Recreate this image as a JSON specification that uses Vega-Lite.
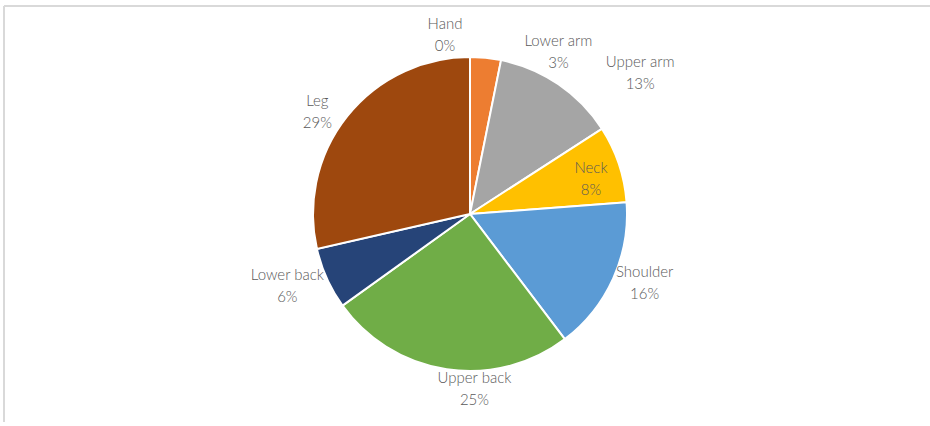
{
  "$schema": "https://vega.github.io/schema/vega-lite/v6.json",
  "width": 932,
  "height": 416,
  "autosize": {"type": "none"},
  "padding": {"left": 4, "top": 6, "right": -6, "bottom": 4},
  "background": "white",
  "view": {"stroke": "#d9d9d9", "strokeWidth": 2, "strokeDash": [932, 1348, 416, 0]},
  "config": {
    "view": {"stroke": "#d9d9d9", "strokeWidth": 2, "strokeDash": [932, 1348, 416, 0]},
    "text": {"font": "Lato", "fontSize": 15, "fontWeight": 300, "color": "#595959", "lineHeight": 22, "baseline": "middle", "align": "center"}
  },
  "data": {
    "values": [
      {"part": "Hand", "pct": 0, "k": 1, "label": "Hand\n0%"},
      {"part": "Lower arm", "pct": 0.0317, "k": 2, "label": "Lower arm\n3%"},
      {"part": "Upper arm", "pct": 0.127, "k": 3, "label": "Upper arm\n13%"},
      {"part": "Neck", "pct": 0.0794, "k": 4, "label": "Neck\n8%"},
      {"part": "Shoulder", "pct": 0.1587, "k": 5, "label": "Shoulder\n16%"},
      {"part": "Upper back", "pct": 0.254, "k": 6, "label": "Upper back\n25%"},
      {"part": "Lower back", "pct": 0.0635, "k": 7, "label": "Lower back\n6%"},
      {"part": "Leg", "pct": 0.2857, "k": 8, "label": "Leg\n29%"}
    ]
  },
  "encoding": {
    "theta": {"field": "pct", "type": "quantitative", "stack": true},
    "order": {"field": "k", "type": "quantitative"}
  },
  "layer": [
    {
      "mark": {"type": "arc", "outerRadius": 157, "stroke": "white", "strokeWidth": 2},
      "encoding": {
        "color": {
          "field": "part",
          "type": "nominal",
          "legend": null,
          "scale": {
            "domain": ["Hand", "Lower arm", "Upper arm", "Neck", "Shoulder", "Upper back", "Lower back", "Leg"],
            "range": ["#4472C4", "#ED7D31", "#A5A5A5", "#FFC000", "#5B9BD5", "#70AD47", "#264478", "#9E480E"]
          }
        }
      }
    },
    {
      "mark": {"type": "text", "radius": 185, "dx": -25, "dy": -5, "lineBreak": "\n"},
      "encoding": {"text": {"condition": {"test": "datum.part === 'Hand'", "field": "label"}, "value": ""}}
    },
    {
      "mark": {"type": "text", "radius": 185, "dx": 70, "dy": 11, "lineBreak": "\n"},
      "encoding": {"text": {"condition": {"test": "datum.part === 'Lower arm'", "field": "label"}, "value": ""}}
    },
    {
      "mark": {"type": "text", "radius": 185, "dx": 66, "dy": 1, "lineBreak": "\n"},
      "encoding": {"text": {"condition": {"test": "datum.part === 'Upper arm'", "field": "label"}, "value": ""}}
    },
    {
      "mark": {"type": "text", "radius": 125, "dx": 2.5, "dy": -6, "lineBreak": "\n"},
      "encoding": {"text": {"condition": {"test": "datum.part === 'Neck'", "field": "label"}, "value": ""}}
    },
    {
      "mark": {"type": "text", "radius": 185, "dx": 6, "dy": -18, "lineBreak": "\n"},
      "encoding": {"text": {"condition": {"test": "datum.part === 'Shoulder'", "field": "label"}, "value": ""}}
    },
    {
      "mark": {"type": "text", "radius": 185, "dx": 32, "dy": -19, "lineBreak": "\n"},
      "encoding": {"text": {"condition": {"test": "datum.part === 'Upper back'", "field": "label"}, "value": ""}}
    },
    {
      "mark": {"type": "text", "radius": 185, "dx": -14, "dy": -15, "lineBreak": "\n"},
      "encoding": {"text": {"condition": {"test": "datum.part === 'Lower back'", "field": "label"}, "value": ""}}
    },
    {
      "mark": {"type": "text", "radius": 185, "dx": -8, "dy": 2, "lineBreak": "\n"},
      "encoding": {"text": {"condition": {"test": "datum.part === 'Leg'", "field": "label"}, "value": ""}}
    }
  ]
}
